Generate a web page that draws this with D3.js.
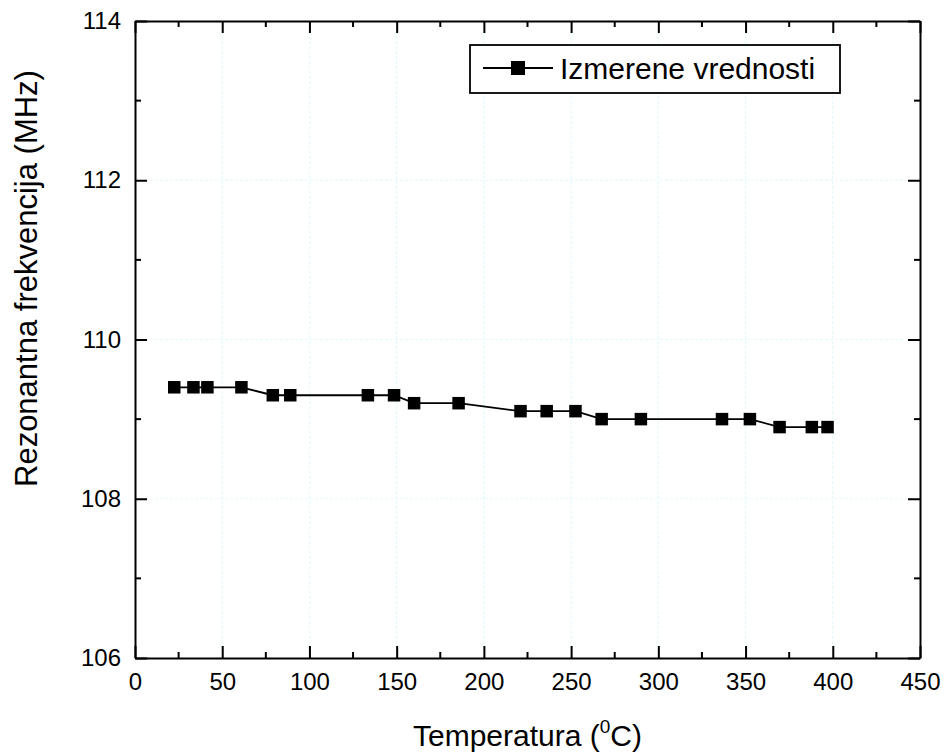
<!DOCTYPE html>
<html>
<head>
<meta charset="utf-8">
<script src="https://cdn.jsdelivr.net/npm/d3@7/dist/d3.min.js"></script>
<style>
  body { margin: 0; background: #fff; }
  svg { display: block; font-family: "Liberation Sans", Arial, sans-serif; }
</style>
</head>
<body>
<svg id="chart" width="945" height="756"></svg>
<script>
// Measured resonant frequency vs. temperature
const temperature = [22.5, 33.5, 41.5, 61, 79, 89, 133.5, 148.5, 160, 185.5, 221, 236, 252.5, 267.5, 290, 336.5, 352.5, 369.5, 388, 397];
const frequency   = [109.4, 109.4, 109.4, 109.4, 109.3, 109.3, 109.3, 109.3, 109.2, 109.2, 109.1, 109.1, 109.1, 109.0, 109.0, 109.0, 109.0, 108.9, 108.9, 108.9];
const xTicks = [0, 50, 100, 150, 200, 250, 300, 350, 400, 450];
const yTicks = [106, 108, 110, 112, 114];
const seriesName = "Izmerene vrednosti";

const svg = d3.select("#chart");
const plotL = 135, plotR = 920, plotT = 21, plotB = 658;

const x = d3.scaleLinear().domain([0, 450]).range([plotL, plotR]);
const y = d3.scaleLinear().domain([106, 114]).range([plotB, plotT]);

const xMinor = d3.range(25, 450, 50);
const yMinor = d3.range(107, 114, 2);

// faint grid at major ticks
const grid = svg.append("g").attr("stroke", "#e6f8fc").attr("stroke-width", 1.2).attr("stroke-dasharray", "3,2");
grid.selectAll(".gx").data(xTicks.slice(1, -1)).join("line")
  .attr("x1", d => x(d)).attr("x2", d => x(d)).attr("y1", plotT).attr("y2", plotB);
grid.selectAll(".gy").data(yTicks.slice(1, -1)).join("line")
  .attr("y1", d => y(d)).attr("y2", d => y(d)).attr("x1", plotL).attr("x2", plotR);

// axes with inward ticks on all four sides
function styleAxis(g) {
  g.selectAll("path").attr("stroke", "#000").attr("stroke-width", 2);
  g.selectAll("line").attr("stroke", "#000").attr("stroke-width", 2);
  g.selectAll("text").attr("fill", "#000").attr("font-size", 24);
}
const xAxis = d3.axisBottom(x).tickValues(xTicks).tickSizeInner(-12).tickSizeOuter(0).tickPadding(15).tickFormat(d3.format("d"));
const xAxisTop = d3.axisTop(x).tickValues(xTicks).tickSizeInner(-12).tickSizeOuter(0).tickFormat("");
const yAxis = d3.axisLeft(y).tickValues(yTicks).tickSizeInner(-12).tickSizeOuter(0).tickPadding(14).tickFormat(d3.format("d"));
const yAxisRight = d3.axisRight(y).tickValues(yTicks).tickSizeInner(-12).tickSizeOuter(0).tickFormat("");

svg.append("g").attr("transform", `translate(0,${plotB})`).call(xAxis).call(styleAxis);
svg.append("g").attr("transform", `translate(0,${plotT})`).call(xAxisTop).call(styleAxis);
svg.append("g").attr("transform", `translate(${plotL},0)`).call(yAxis).call(styleAxis);
svg.append("g").attr("transform", `translate(${plotR},0)`).call(yAxisRight).call(styleAxis);

// minor ticks
const minor = svg.append("g").attr("stroke", "#000").attr("stroke-width", 2);
xMinor.forEach(v => {
  minor.append("line").attr("x1", x(v)).attr("x2", x(v)).attr("y1", plotB).attr("y2", plotB - 6);
  minor.append("line").attr("x1", x(v)).attr("x2", x(v)).attr("y1", plotT).attr("y2", plotT + 6);
});
yMinor.forEach(v => {
  minor.append("line").attr("y1", y(v)).attr("y2", y(v)).attr("x1", plotL).attr("x2", plotL + 6);
  minor.append("line").attr("y1", y(v)).attr("y2", y(v)).attr("x1", plotR).attr("x2", plotR - 6);
});

// data line and square markers
const pts = temperature.map((t, i) => [t, frequency[i]]);
svg.append("path").datum(pts)
  .attr("fill", "none").attr("stroke", "#000").attr("stroke-width", 1.8)
  .attr("d", d3.line().x(d => x(d[0])).y(d => y(d[1])));
const ms = 12.5;
svg.append("g").selectAll("rect").data(pts).join("rect")
  .attr("x", d => x(d[0]) - ms / 2).attr("y", d => y(d[1]) - ms / 2)
  .attr("width", ms).attr("height", ms).attr("fill", "#000");

// legend
const lg = svg.append("g");
lg.append("rect").attr("x", 470).attr("y", 45).attr("width", 370).attr("height", 48)
  .attr("fill", "#fff").attr("stroke", "#000").attr("stroke-width", 1.8);
lg.append("line").attr("x1", 483).attr("x2", 553).attr("y1", 68).attr("y2", 68).attr("stroke", "#000").attr("stroke-width", 1.8);
lg.append("rect").attr("x", 511).attr("y", 61).attr("width", 14).attr("height", 14).attr("fill", "#000");
lg.append("text").attr("x", 560).attr("y", 79).attr("font-size", 30).attr("fill", "#000").text(seriesName);

// axis titles
svg.append("text").attr("x", (plotL + plotR) / 2).attr("y", 746).attr("text-anchor", "middle")
  .attr("font-size", 30).attr("fill", "#000")
  .call(t => {
    t.append("tspan").text("Temperatura (");
    t.append("tspan").attr("font-size", 19).attr("dy", -13).text("0");
    t.append("tspan").attr("dy", 13).text("C)");
  });
svg.append("text").attr("transform", `translate(37,487) rotate(-90)`)
  .attr("text-anchor", "start").attr("font-size", 31).attr("fill", "#000")
  .text("Rezonantna frekvencija (MHz)");
</script>
</body>
</html>
